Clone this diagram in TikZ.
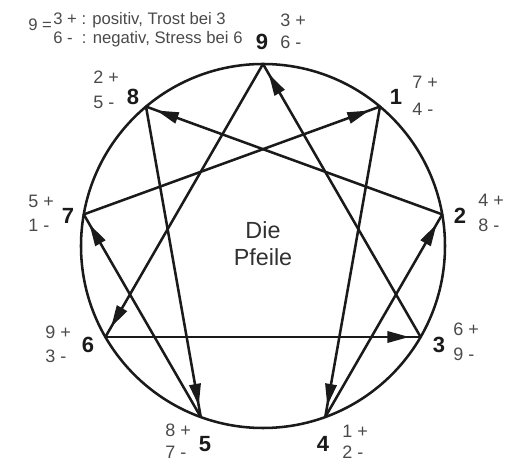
\documentclass[tikz,border=0pt]{standalone}
\usepackage{fontspec}
\setmainfont{Liberation Sans}
\usetikzlibrary{arrows.meta,decorations.markings}
\definecolor{DiagInk}{HTML}{1A1A1A}
\definecolor{LabelGray}{HTML}{4A4A4A}
\tikzset{>=Triangle,ring/.style={draw=DiagInk,line width=1.9pt},
 flow/.style={draw=DiagInk,line width=1.9pt,line cap=round,postaction={decorate},
 decoration={markings,mark=at position -8.5pt with {\arrow{Triangle[length=16.5pt,width=8.5pt]}}}},
 point/.style={inner sep=0pt,text=DiagInk,font=\fontsize{16.5}{18}\selectfont\bfseries},
 tag/.style={anchor=west,inner sep=0pt,text=LabelGray,font=\fontsize{13.5}{15}\selectfont},
 key/.style={inner sep=0pt,text=LabelGray,align=left,font=\fontsize{12.5}{14.25}\selectfont},
 title/.style={inner sep=0pt,text=DiagInk!90,align=center,font=\fontsize{17.5}{20}\selectfont}}

\begin{document}
\begin{tikzpicture}[x=0.75pt,y=0.75pt]
\useasboundingbox (0,0) rectangle (508,-466);
\coordinate (c) at (263,-246);
\draw[ring] (c) circle[radius=182];
\foreach \n in {1,...,9} \path (c) ++(90-40*\n:182) coordinate (p\n);
\foreach \a/\b in {1/4,4/2,2/8,8/5,5/7,7/1,9/6,6/3,3/9} \draw[flow] (p\a) -- (p\b);
% point numbers
\foreach \n/\x/\y in {9/262/42,1/396/97,2/460/216,3/439/345,4/323/444,5/205/444,6/88/345,7/68/216,8/133/97}
 \node[point] (n\n) at (\x,-\y) {\n};
% wings: + line above, - line below
\foreach \n/\x/\ya/\yb/\pl/\mi in {9/280/20/42/3/6,1/412/82/109/7/4,2/478/200/225/4/8,3/453/329/354/6/9,4/342/431/452/1/2,5/165/430/452/8/7,6/45/332/356/9/3,7/28/201/225/5/1,8/93/77/102/2/5}
 {\node[tag] (plus\n) at (\x,-\ya) {\pl\ +};
  \node[tag] (minus\n) at (\x,-\yb) {\mi\ -};}
\node[key,anchor=north west] (legend) at (53,-12) {3 + : positiv, Trost bei 3\\6 -\ \ : negativ, Stress bei 6};
\node[key,anchor=west] (legendnum) at (28,-24.5) {9 =};
\node[title] (arrows) at (263,-243.5) {Die\\Pfeile};
\end{tikzpicture}
\end{document}
